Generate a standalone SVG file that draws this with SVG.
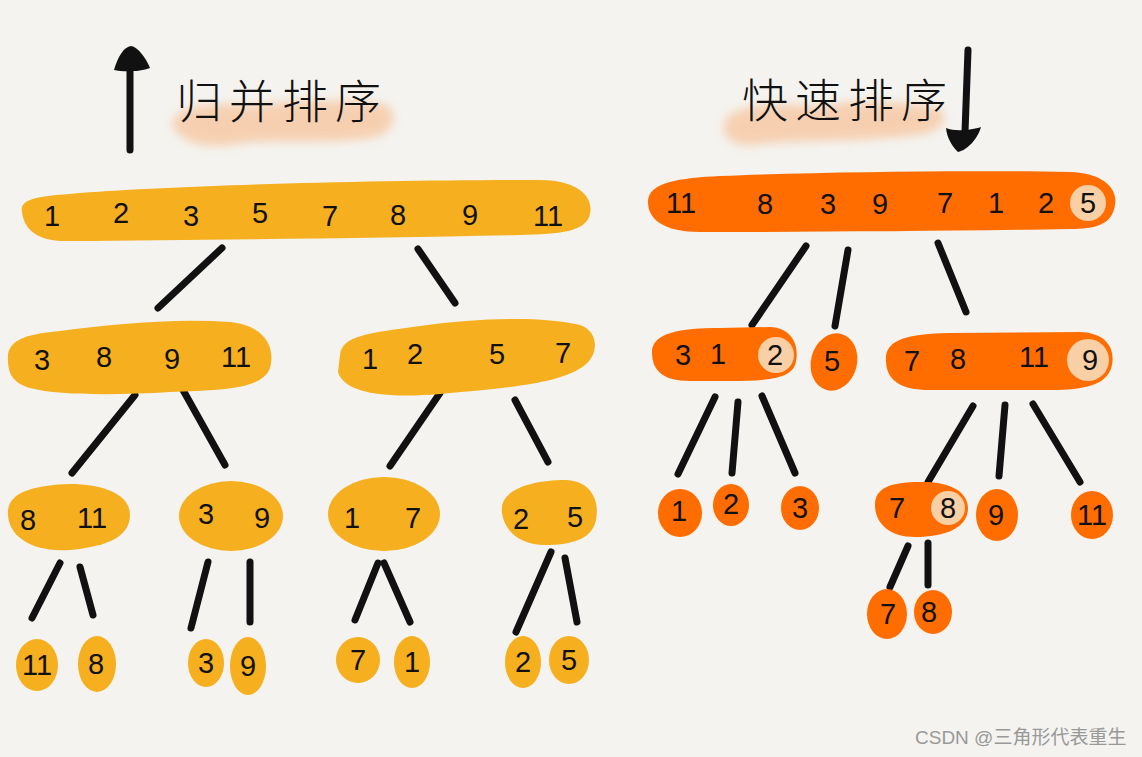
<svg xmlns="http://www.w3.org/2000/svg" width="1142" height="757" viewBox="0 0 1142 757">
<defs>
<style>
.m{fill:#F5AF1F}
.q{fill:#FF6D00}
.p{fill:#F9CFA6}
.n{font-family:"Liberation Sans",Arial,sans-serif;font-size:29px;fill:#111;text-anchor:middle}
.t{font-family:"Noto Sans CJK SC","Noto Sans",sans-serif;font-size:46px;font-weight:300;fill:#111;letter-spacing:7px}
.c{stroke:#111;stroke-width:7;stroke-linecap:round;fill:none}
.w{font-family:"Liberation Sans","Noto Sans CJK SC",sans-serif;font-size:19px;fill:#999999}
</style>
<filter id="blur" x="-20%" y="-50%" width="140%" height="200%"><feGaussianBlur stdDeviation="5"/></filter>
</defs>
<rect width="1142" height="757" fill="#F4F3EF"/>

<g id="title-merge">
<path d="M172,125 C175,104 215,102 250,106 C290,100 340,98 385,104 C400,114 394,134 372,138 C330,144 290,140 250,142 C220,148 185,150 172,125 Z" fill="#F7C7A2" opacity="0.8" filter="url(#blur)"/>
<path d="M130,150 L130,62" stroke="#111" stroke-width="7" stroke-linecap="round"/>
<path d="M114,70 C118,56 124,47 131,46 C138,47 146,58 150,68 C140,72 122,72 114,70 Z" fill="#111"/>
<text class="t" x="176" y="118">归并排序</text>
</g>

<g id="title-quick">
<path d="M724,124 C728,106 770,102 810,106 C860,100 910,100 942,110 C950,124 935,136 905,136 C860,142 800,140 760,144 C735,148 722,140 724,124 Z" fill="#F7C7A2" opacity="0.8" filter="url(#blur)"/>
<path d="M968,50 L965,132" stroke="#111" stroke-width="7" stroke-linecap="round"/>
<path d="M946,128 C955,132 972,130 981,127 C978,138 968,150 958,152 C952,146 947,138 946,128 Z" fill="#111"/>
<text class="t" x="742" y="117">快速排序</text>
</g>

<g id="connectors">
<path class="c" d="M222,248 L158,308"/>
<path class="c" d="M418,249 L455,303"/>
<path class="c" d="M135,395 L72,473"/>
<path class="c" d="M183,390 L225,465"/>
<path class="c" d="M440,393 L390,466" stroke-width="8"/>
<path class="c" d="M515,400 L548,462"/>
<path class="c" d="M60,563 L32,618"/>
<path class="c" d="M80,567 L93,615"/>
<path class="c" d="M208,562 L191,628"/>
<path class="c" d="M250,562 L250,622"/>
<path class="c" d="M378,563 L355,620"/>
<path class="c" d="M384,563 L410,622" stroke-width="9"/>
<path class="c" d="M551,552 L516,632" stroke-width="9"/>
<path class="c" d="M565,558 L577,622"/>
<path class="c" d="M806,246 L752,325"/>
<path class="c" d="M848,250 L835,326"/>
<path class="c" d="M938,243 L966,312"/>
<path class="c" d="M715,397 L678,474"/>
<path class="c" d="M738,402 L732,473"/>
<path class="c" d="M762,396 L795,473"/>
<path class="c" d="M973,406 L928,482"/>
<path class="c" d="M1005,405 L999,476"/>
<path class="c" d="M1033,404 L1080,482" stroke-width="8"/>
<path class="c" d="M908,546 L890,587"/>
<path class="c" d="M928,543 L928,585"/>
</g>

<g id="m0">
<path class="m" d="M22,212 C18,196 50,196 80,193 C200,184 400,180 540,180 C575,180 594,195 590,214 C586,232 560,234 520,235 C380,238 200,240 70,241 C35,242 24,228 22,212 Z"/>
<text class="n" x="52" y="226">1</text><text class="n" x="121" y="223">2</text><text class="n" x="191" y="226">3</text><text class="n" x="260" y="223">5</text><text class="n" x="330" y="226">7</text><text class="n" x="398" y="225">8</text><text class="n" x="470" y="225">9</text><text class="n" x="548" y="226">11</text>
</g>

<g id="m1a">
<path class="m" d="M8,360 C6,338 30,334 60,331 C110,325 170,318 230,322 C268,326 275,350 270,368 C262,390 220,390 170,392 C120,395 60,396 30,388 C12,383 8,372 8,360 Z"/>
<text class="n" x="42" y="370">3</text><text class="n" x="104" y="367">8</text><text class="n" x="172" y="369">9</text><text class="n" x="236" y="367">11</text>
</g>
<g id="m1b">
<path class="m" d="M340,355 C342,335 370,333 420,326 C480,318 540,316 580,325 C600,332 598,355 585,365 C560,385 500,388 440,394 C390,398 345,395 338,372 Z"/>
<text class="n" x="370" y="369">1</text><text class="n" x="415" y="364">2</text><text class="n" x="497" y="364">5</text><text class="n" x="563" y="363">7</text>
</g>

<g id="m2a">
<path class="m" d="M8,510 C10,490 40,485 70,484 C105,484 130,495 130,515 C130,540 100,547 70,550 C30,553 6,535 8,510 Z"/>
<text class="n" x="28" y="530">8</text><text class="n" x="92" y="528">11</text>
</g>
<g id="m2b">
<ellipse class="m" cx="231" cy="516" rx="52" ry="35"/>
<text class="n" x="206" y="524">3</text><text class="n" x="262" y="528">9</text>
</g>
<g id="m2c">
<ellipse class="m" cx="384" cy="514" rx="56" ry="37"/>
<text class="n" x="352" y="528">1</text><text class="n" x="413" y="528">7</text>
</g>
<g id="m2d">
<path class="m" d="M502,506 C505,488 535,480 565,480 C590,480 600,500 596,520 C592,540 570,545 545,545 C515,545 500,525 502,506 Z"/>
<text class="n" x="521" y="529">2</text><text class="n" x="575" y="527">5</text>
</g>

<g id="m3a"><ellipse class="m" cx="37" cy="665" rx="21" ry="26"/><text class="n" x="37" y="675">11</text></g>
<g id="m3b"><ellipse class="m" cx="97" cy="664" rx="19" ry="28"/><text class="n" x="96" y="674">8</text></g>
<g id="m3c"><ellipse class="m" cx="206" cy="663" rx="18" ry="24"/><text class="n" x="206" y="673">3</text></g>
<g id="m3d"><ellipse class="m" cx="248" cy="666" rx="18" ry="29"/><text class="n" x="248" y="676">9</text></g>
<g id="m3e"><ellipse class="m" cx="358" cy="660" rx="22" ry="23"/><text class="n" x="358" y="670">7</text></g>
<g id="m3f"><ellipse class="m" cx="412" cy="662" rx="18" ry="26"/><text class="n" x="412" y="672">1</text></g>
<g id="m3g"><ellipse class="m" cx="523" cy="662" rx="18" ry="26"/><text class="n" x="523" y="672">2</text></g>
<g id="m3h"><ellipse class="m" cx="569" cy="660" rx="20" ry="24"/><text class="n" x="569" y="670">5</text></g>

<g id="q0">
<path class="q" d="M648,202 C648,182 680,178 720,176 C820,172 960,170 1070,172 C1105,173 1118,190 1115,205 C1112,225 1095,229 1070,229 C960,231 820,232 700,232 C665,232 648,220 648,202 Z"/>
<circle class="p" cx="1088" cy="203" r="18"/>
<text class="n" x="681" y="213">11</text><text class="n" x="765" y="214">8</text><text class="n" x="828" y="214">3</text><text class="n" x="880" y="214">9</text><text class="n" x="945" y="213">7</text><text class="n" x="996" y="213">1</text><text class="n" x="1046" y="213">2</text><text class="n" x="1088" y="213">5</text>
</g>

<g id="q1a">
<path class="q" d="M652,352 C652,333 680,328 720,328 L770,327 C795,328 800,350 795,365 C790,380 760,381 730,381 L690,381 C662,381 652,370 652,352 Z"/>
<circle class="p" cx="776" cy="355" r="18"/>
<text class="n" x="683" y="365">3</text><text class="n" x="718" y="364">1</text><text class="n" x="775" y="365">2</text>
</g>
<g id="q1b"><ellipse class="q" cx="834" cy="362" rx="23" ry="29" transform="rotate(15 834 362)"/><text class="n" x="832" y="371">5</text></g>
<g id="q1c">
<path class="q" d="M886,362 C884,340 905,334 950,333 L1080,332 C1108,333 1115,350 1112,365 C1108,385 1085,390 1050,390 L930,390 C900,390 887,380 886,362 Z"/>
<circle class="p" cx="1088" cy="360" r="21"/>
<text class="n" x="912" y="371">7</text><text class="n" x="958" y="369">8</text><text class="n" x="1034" y="367">11</text><text class="n" x="1090" y="370">9</text>
</g>

<g id="q2a"><ellipse class="q" cx="680" cy="513" rx="22" ry="24"/><text class="n" x="679" y="521">1</text></g>
<g id="q2b"><ellipse class="q" cx="731" cy="505" rx="18" ry="21"/><text class="n" x="731" y="514">2</text></g>
<g id="q2c"><ellipse class="q" cx="800" cy="508" rx="19" ry="22"/><text class="n" x="800" y="518">3</text></g>
<g id="q2d">
<path class="q" d="M875,505 C875,488 890,482 920,482 C950,481 968,492 968,508 C968,528 945,537 915,537 C888,537 875,522 875,505 Z"/>
<circle class="p" cx="948" cy="508" r="17"/>
<text class="n" x="897" y="518">7</text><text class="n" x="948" y="518">8</text>
</g>
<g id="q2e"><ellipse class="q" cx="997" cy="515" rx="21" ry="26"/><text class="n" x="996" y="525">9</text></g>
<g id="q2f"><ellipse class="q" cx="1092" cy="515" rx="21" ry="24"/><text class="n" x="1092" y="525">11</text></g>

<g id="q3a"><ellipse class="q" cx="887" cy="614" rx="20" ry="25"/><text class="n" x="888" y="624">7</text></g>
<g id="q3b"><ellipse class="q" cx="933" cy="612" rx="19" ry="22"/><text class="n" x="929" y="622">8</text></g>

<text class="w" x="915" y="744">CSDN @三角形代表重生</text>
</svg>
